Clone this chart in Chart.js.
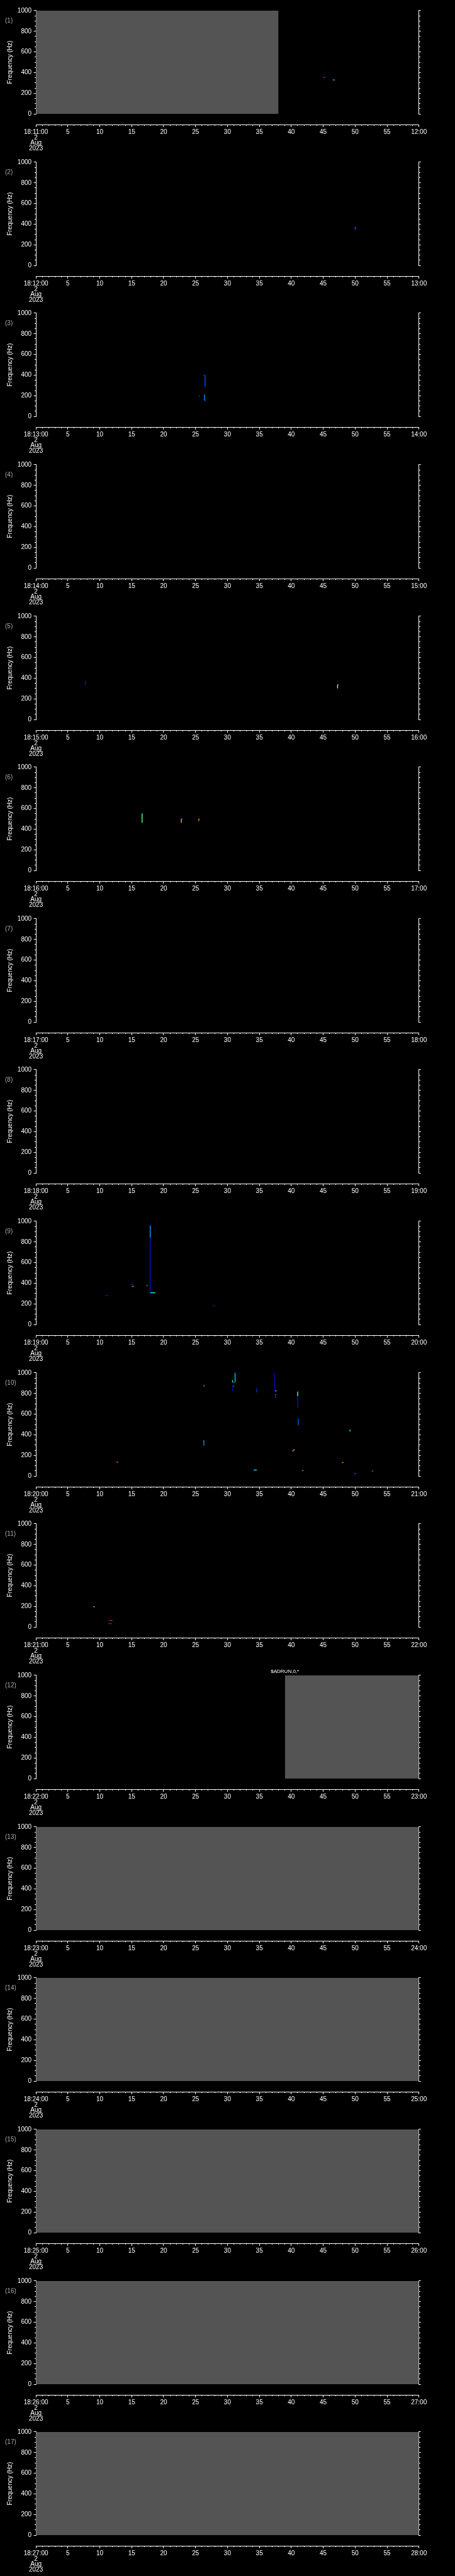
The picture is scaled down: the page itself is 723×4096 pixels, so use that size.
<!DOCTYPE html>
<html>
<head>
<meta charset="utf-8">
<title>Frequency panels 18:11 - 18:28</title>
<script src="https://cdn.jsdelivr.net/npm/chart.js@4.4.1/dist/chart.umd.min.js"></script>
<style>
  html, body { margin: 0; padding: 0; background: #000; }
  #wrap { position: relative; width: 723px; height: 4096px; background: #000; overflow: hidden; }
  #wrap canvas { position: absolute; left: 0; }
</style>
</head>
<body>
<div id="wrap"></div>
<script>
// one panel per minute, 2 Aug 2023, starting at 18:MM:00
const panelMinutes = [11, 12, 13, 14, 15, 16, 17, 18, 19, 20, 21, 22, 23, 24, 25, 26, 27];
const dateLines = ['2', 'Aug', '2023'];

// grey (no data) spans, seconds within the panel
const grayPanel = [1, 12, 13, 14, 15, 16, 17];
const grayStart = [0, 39, 0, 0, 0, 0, 0];
const grayEnd   = [38, 60, 60, 60, 60, 60, 60];

// event text above a panel
const eventPanel = [12];
const eventTime  = [39];
const eventText  = ['$ADRUN,0,*'];

// detections: panel, time span (s), frequency span (Hz), intensity 0..1
const markPanel = [1, 1, 1, 1, 2, 2, 3, 3, 3, 3, 3, 5, 5, 5, 6, 6, 6, 6, 6, 6,
  9, 9, 9, 9, 9, 9, 9, 9,
  10, 10, 10, 10, 10, 10, 10, 10, 10, 10, 10, 10, 10, 10, 10, 10, 10, 10, 10, 10, 10, 10, 10,
  11, 11, 11, 11, 11];
const markT0 = [45.0, 45.2, 46.4, 46.6, 50.0, 50.0, 26.5, 26.3, 26.4, 26.4, 25.5, 7.7, 47.25, 47.25, 16.63, 16.63, 22.77, 22.77, 25.45, 25.5,
  17.9, 17.9, 17.9, 17.3, 15.2, 11.0, 15.0, 27.8,
  31.2, 30.8, 31.0, 26.3, 30.8, 30.9, 34.6, 37.4, 37.45, 37.5, 37.5, 41.0, 41.0, 41.1, 49.2, 26.3, 40.2, 12.6, 47.9, 34.1, 41.7, 49.9, 52.6,
  9.0, 11.4, 11.7, 11.4, 11.6];
const markT1 = [45.2, 45.4, 46.6, 46.8, 50.0, 50.2, 26.5, 26.5, 26.4, 26.6, 25.7, 7.8, 47.25, 47.4, 16.63, 16.8, 22.77, 22.9, 25.5, 25.6,
  17.9, 17.9, 18.7, 17.5, 15.2, 11.2, 15.2, 28.0,
  31.2, 30.8, 31.1, 26.4, 30.8, 31.0, 34.6, 37.4, 37.7, 37.5, 37.7, 41.0, 41.0, 41.1, 49.2, 26.3, 40.5, 12.9, 48.2, 34.6, 41.9, 50.1, 52.8,
  9.2, 11.7, 12.0, 11.6, 11.8];
const markF0 = [356, 352, 330, 329, 345, 370, 288, 397, 156, 156, 200, 332, 303, 338, 463, 552, 463, 499, 480, 499,
  309, 840, 309, 376, 363, 281, 390, 183,
  911, 907, 907, 870, 821, 870, 810, 825, 825, 757, 790, 774, 660, 492, 432, 295, 242, 136, 132, 59, 54, 24, 50,
  196, 64, 64, 34, 34];
const markF1 = [356, 352, 330, 329, 370, 370, 397, 397, 214, 156, 197, 375, 338, 338, 552, 548, 499, 499, 499, 499,
  840, 960, 309, 376, 376, 281, 390, 183,
  1000, 931, 907, 880, 874, 870, 850, 1000, 825, 790, 790, 818, 774, 557, 451, 348, 260, 136, 132, 59, 54, 24, 50,
  198, 64, 64, 34, 34];
const markLevel = [0.98, 0.12, 0.18, 0.45, 0.18, 0.18, 0.17, 0.17, 0.25, 0.2, 0.15, 0.06, 0.66, 0.36, 0.5, 0.06, 0.78, 0.52, 0.86, 0.6,
  0.04, 0.26, 0.38, 0.32, 0.58, 0.15, 0.2, 0.18,
  0.32, 0.38, 0.68, 0.38, 0.02, 0.66, 0.1, 0.02, 0.38, 0.12, 0.2, 0.52, 0.04, 0.18, 0.38, 0.25, 0.8, 0.86, 0.88, 0.34, 0.86, 0.2, 0.9,
  0.55, 0.98, 0.2, 0.98, 0.2];

// rainbow colour table
const cmapStops = [0, 0.15, 0.35, 0.5, 0.65, 0.8, 0.9, 1];
const cmapRGB = [[0, 0, 180], [0, 64, 255], [0, 224, 255], [96, 255, 144], [240, 240, 0], [255, 160, 0], [255, 80, 0], [208, 0, 0]];

function levelColor(v) {
  let i = 0;
  while (i < cmapStops.length - 2 && v > cmapStops[i + 1]) i++;
  const a = cmapStops[i], b = cmapStops[i + 1];
  const f = Math.max(0, Math.min(1, (v - a) / (b - a)));
  const c = cmapRGB[i].map((x, j) => Math.round(x + (cmapRGB[i + 1][j] - x) * f));
  return `rgb(${c[0]},${c[1]},${c[2]})`;
}

Chart.defaults.font.family = "'Liberation Sans', Arial, sans-serif";
Chart.defaults.font.size = 10;
Chart.defaults.color = '#ffffff';

const W = 723;
const S = 0.705;
const panelStep = 341.33 * S;
const canvasH = 241;
const padTop = 24 * S;
const plotH = 233 * S;
const leftW = 81 * S;
const rightW = W - 944.3 * S;
const axisGap = -103;   // x axis sits below 0 Hz, in Hz units

const panelText = {
  id: 'panelText',
  afterDraw(chart, args, opts) {
    const {ctx, chartArea, scales} = chart;
    ctx.save();
    ctx.fillStyle = '#a8a8a8';
    ctx.font = "10px 'Liberation Sans', Arial, sans-serif";
    ctx.textBaseline = 'middle';
    ctx.textAlign = 'left';
    ctx.fillText('(' + opts.panel + ')', 8, chartArea.top + 16.2);
    eventPanel.forEach((p, i) => {
      if (p !== opts.panel) return;
      ctx.fillStyle = '#ffffff';
      ctx.font = "8px 'Liberation Sans', Arial, sans-serif";
      ctx.textAlign = 'center';
      ctx.fillText(eventText[i], scales.x.getPixelForValue(eventTime[i]), chartArea.top - 6);
    });
    ctx.restore();
  }
};

const wrap = document.getElementById('wrap');
const pad2 = n => String(n).padStart(2, '0');

panelMinutes.forEach((mm, idx) => {
  const panel = idx + 1;
  const cv = document.createElement('canvas');
  cv.width = W;
  cv.height = canvasH;
  cv.style.top = Math.round(idx * panelStep) + 'px';
  wrap.appendChild(cv);

  const datasets = [];
  markPanel.forEach((p, i) => {
    if (p !== panel) return;
    datasets.push({
      data: [{x: markT0[i], y: markF0[i]}, {x: markT1[i], y: markF1[i]}],
      borderColor: levelColor(markLevel[i]),
      borderWidth: 1.4,
      pointRadius: 0,
      fill: false
    });
  });
  grayPanel.forEach((p, i) => {
    if (p !== panel) return;
    datasets.push({
      data: [{x: grayStart[i], y: 1000}, {x: grayEnd[i], y: 1000}],
      borderWidth: 0,
      borderColor: 'rgba(0,0,0,0)',
      backgroundColor: '#545454',
      pointRadius: 0,
      fill: 'start'
    });
  });

  new Chart(cv, {
    type: 'line',
    data: {datasets},
    plugins: [panelText],
    options: {
      responsive: false,
      animation: false,
      events: [],
      layout: {padding: {top: padTop, bottom: canvasH - padTop - plotH, left: 0, right: 0}},
      plugins: {legend: {display: false}, tooltip: {enabled: false}, panelText: {panel}},
      scales: {
        x: {
          type: 'linear', min: 0, max: 60,
          position: {y: axisGap},
          border: {color: '#fff', width: 1},
          grid: {drawOnChartArea: false, color: '#fff', tickLength: 3},
          ticks: {
            stepSize: 5, autoSkip: false, maxRotation: 0, padding: 5,
            font: {size: 10, lineHeight: '8.5px'},
            callback: v => v === 0 ? ['18:' + pad2(mm) + ':00', ...dateLines]
              : v === 60 ? pad2(mm + 1) + ':00' : String(v)
          }
        },
        xMinor: {
          type: 'linear', min: 0, max: 60,
          position: {y: axisGap},
          border: {display: false},
          grid: {drawOnChartArea: false, color: '#fff', tickLength: 2},
          ticks: {stepSize: 1, autoSkip: false, display: false}
        },
        y: {
          type: 'linear', min: 0, max: 1000, position: 'left',
          border: {color: '#fff', width: 1},
          grid: {drawOnChartArea: false, color: '#fff', tickLength: 3.5},
          ticks: {stepSize: 200, autoSkip: false, padding: 3.5, callback: v => String(v)},
          title: {display: true, text: 'Frequency (Hz)', color: '#fff', font: {size: 10}, padding: {top: 10, bottom: 0}},
          afterFit: s => { s.width = leftW; }
        },
        yMinor: {
          type: 'linear', min: 0, max: 1000,
          position: {x: 0},
          border: {display: false},
          grid: {drawOnChartArea: false, color: '#fff', tickLength: 2},
          ticks: {stepSize: 50, autoSkip: false, display: false}
        },
        y2: {
          type: 'linear', min: 0, max: 1000, position: 'right',
          border: {color: '#fff', width: 1},
          grid: {drawOnChartArea: false, color: '#fff', tickLength: 3},
          ticks: {stepSize: 200, autoSkip: false, display: false},
          afterFit: s => { s.width = rightW; }
        },
        y2Minor: {
          type: 'linear', min: 0, max: 1000,
          position: {x: 60},
          border: {display: false},
          grid: {drawOnChartArea: false, color: '#fff', tickLength: -2},
          ticks: {stepSize: 50, autoSkip: false, display: false}
        }
      }
    }
  });
});
</script>
</body>
</html>
